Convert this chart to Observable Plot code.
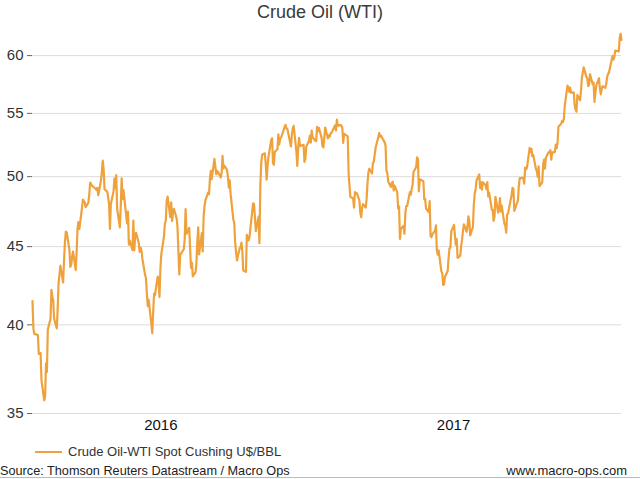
<!DOCTYPE html>
<html>
<head>
<meta charset="utf-8">
<script src="https://cdn.jsdelivr.net/npm/d3@7"></script>
<script src="https://cdn.jsdelivr.net/npm/@observablehq/plot@0.6"></script>
<style>
  html, body { margin: 0; padding: 0; background: #fff; }
  #wrap { position: relative; width: 640px; height: 479px; overflow: hidden; font-family: "Liberation Sans", Arial, sans-serif; color: #333; }
  #title { position: absolute; left: 0; top: 1px; width: 640px; text-align: center; font-size: 18px; line-height: 22px; color: #3a3a3a; }
  #chart { position: absolute; left: 0; top: 25px; }
  #legend { position: absolute; left: 35px; top: 444px; height: 16px; line-height: 16px; font-size: 13px; color: #333; display: flex; align-items: center; }
  #legend .sw { width: 27px; height: 2px; background: #EFA23C; margin-right: 6px; }
  #source { position: absolute; left: 0; top: 463px; font-size: 12.7px; line-height: 16px; color: #222; }
  #site { position: absolute; right: 13px; top: 463px; font-size: 13px; line-height: 16px; color: #222; }
  #rule { position: absolute; left: 0; top: 477px; width: 640px; height: 1px; background: #bbb; }
</style>
</head>
<body>
<div id="wrap">
  <div id="title">Crude Oil (WTI)</div>
  <div id="chart"></div>
  <div id="legend"><div class="sw"></div><span>Crude Oil-WTI Spot Cushing U$/BBL</span></div>
  <div id="source">Source: Thomson Reuters Datastream / Macro Ops</div>
  <div id="site">www.macro-ops.com</div>
  <div id="rule"></div>
</div>
<script>
// Daily WTI spot (US$/bbl), by month: "day:value" pairs
const months = [
  "2016-03", "2016-04", "2016-05", "2016-06", "2016-07", "2016-08", "2016-09", "2016-10", "2016-11", "2016-12",
  "2017-01", "2017-02", "2017-03", "2017-04", "2017-05", "2017-06", "2017-07", "2017-08", "2017-09", "2017-10",
  "2017-11", "2017-12", "2018-01"
];
const days = [
  [22,23,24,28,29,30,31],
  [1,4,5,6,7,8,11,12,13,14,15,18,19,20,21,22,25,26,27,28,29],
  [2,3,4,5,6,9,10,11,12,13,16,17,18,19,20,23,24,25,26,27,31],
  [1,2,3,6,7,8,9,10,13,14,15,16,17,20,21,22,23,24,27,28,29,30],
  [1,5,6,7,8,11,12,13,14,15,18,19,20,21,22,25,26,27,28,29],
  [1,2,3,4,5,8,9,10,11,12,15,16,17,18,19,22,23,24,25,26,29,30,31],
  [1,2,6,7,8,9,12,13,14,15,16,19,20,21,22,23,26,27,28,29,30],
  [3,4,5,6,7,10,11,12,13,14,17,18,19,20,21,24,25,26,27,28,31],
  [1,2,3,4,7,8,9,10,11,14,15,16,17,18,21,22,23,25,28,29,30],
  [1,2,5,6,7,8,9,12,13,14,15,16,19,20,21,22,23,27,28,29,30],
  [3,4,5,6,9,10,11,12,13,17,18,19,20,23,24,25,26,27,30,31],
  [1,2,3,6,7,8,9,10,13,14,15,16,17,21,22,23,24,27,28],
  [1,2,3,6,7,8,9,10,13,14,15,16,17,20,21,22,23,24,27,28,29,30,31],
  [3,4,5,6,7,10,11,12,13,17,18,19,20,21,24,25,26,27,28],
  [1,2,3,4,5,8,9,10,11,12,15,16,17,18,19,22,23,24,25,26,30,31],
  [1,2,5,6,7,8,9,12,13,14,15,16,19,20,21,22,23,26,27,28,29,30],
  [3,5,6,7,10,11,12,13,14,17,18,19,20,21,24,25,26,27,28,31],
  [1,2,3,4,7,8,9,10,11,14,15,16,17,18,21,22,23,24,25,28,29,30,31],
  [1,5,6,7,8,11,12,13,14,15,18,19,20,21,22,25,26,27,28,29],
  [2,3,4,5,6,9,10,11,12,13,16,17,18,19,20,23,24,25,26,27,30,31],
  [1,2,3,6,7,8,9,10,13,14,15,16,17,20,21,22,24,27,28,29,30],
  [1,4,5,6,7,8,11,12,13,14,15,18,19,20,21,22,26,27,28,29],
  [2,3,4,5]
];
const prices = [
  [41.45,39.79,39.46,39.39,38.28,38.34,38.34],
  [36.79,35.70,35.89,37.75,37.26,39.72,40.36,42.17,41.76,41.50,40.36,39.78,41.08,42.63,43.18,43.73,42.64,44.04,45.29,46.03,45.98],
  [44.78,43.65,43.78,44.32,44.66,43.44,44.66,46.23,46.70,46.21,47.72,48.31,48.19,48.12,47.75,48.08,48.62,49.56,49.48,49.33,49.10],
  [49.01,49.17,48.62,49.69,50.36,51.23,50.56,49.07,48.88,48.49,47.99,46.21,47.98,48.92,49.85,49.13,50.11,47.64,46.33,47.85,49.88,48.33],
  [48.99,46.60,47.43,45.14,45.41,44.76,46.80,44.75,45.68,45.95,45.24,44.65,44.94,44.75,44.19,43.13,42.92,41.92,41.14,41.54],
  [40.05,39.50,40.80,41.92,41.83,43.02,42.77,41.71,43.49,44.48,45.72,46.58,46.79,48.22,48.52,47.05,48.10,46.77,47.33,47.64,46.98,46.35,44.70],
  [43.16,44.44,44.83,45.50,47.62,45.88,46.29,44.90,43.58,43.91,43.03,43.30,43.85,45.34,46.32,44.48,45.93,44.67,47.05,47.83,48.24],
  [48.81,48.69,49.83,50.44,49.81,51.35,50.79,50.18,50.44,50.35,49.94,50.29,51.60,50.63,50.85,50.52,49.96,49.18,49.72,48.70,46.86],
  [46.67,45.34,44.66,44.07,44.88,44.96,45.27,44.66,43.41,43.32,45.81,45.57,45.42,45.69,47.49,48.03,47.96,46.06,47.08,45.23,49.44],
  [51.06,51.68,51.79,50.93,49.77,50.84,51.50,52.83,52.98,51.04,50.90,51.90,52.12,53.30,52.49,52.95,53.02,53.90,54.06,53.77,53.72],
  [52.33,53.26,53.77,53.98,51.95,50.82,52.19,53.01,52.36,52.45,51.12,51.39,52.33,52.77,53.18,52.63,53.59,53.07,52.76,52.75],
  [53.90,53.55,53.81,53.01,52.36,52.26,53.00,53.84,52.96,53.21,53.11,53.38,53.41,54.02,53.61,54.48,53.99,54.04,54.00],
  [53.82,52.61,53.33,53.19,53.11,50.28,49.28,48.49,48.40,47.72,48.86,48.75,48.78,48.22,47.34,47.04,47.70,47.97,47.73,48.37,49.51,50.35,50.60],
  [50.24,51.03,51.15,51.70,52.24,53.08,53.40,53.11,53.18,52.65,52.41,50.44,50.27,49.62,49.23,49.56,49.62,48.97,49.33],
  [48.84,47.66,47.82,45.52,46.22,46.43,45.88,47.33,47.83,47.84,48.85,48.66,49.07,49.35,50.33,50.73,51.47,51.36,48.90,49.80,49.66,48.32],
  [48.36,47.66,47.40,48.19,45.72,45.64,45.83,46.10,46.46,44.73,44.46,44.74,43.34,43.23,42.48,42.53,43.01,43.38,44.24,44.88,44.93,46.04],
  [46.50,45.13,45.52,44.25,44.40,45.04,45.49,46.08,46.54,46.02,46.40,47.10,46.79,45.77,46.34,47.89,48.75,49.04,49.71,50.17],
  [49.16,49.59,49.03,49.57,49.37,49.07,49.59,48.54,48.81,47.59,47.55,46.78,47.09,48.51,47.37,47.64,48.41,47.43,47.87,46.57,46.44,45.96,47.23],
  [47.29,48.66,49.16,49.09,47.48,48.07,48.23,49.30,49.89,49.89,49.91,49.48,50.69,50.55,50.66,52.22,51.88,52.14,51.56,51.67],
  [50.58,50.42,49.98,50.79,49.29,49.58,50.92,51.30,50.60,51.45,51.87,51.88,52.04,51.29,51.84,51.90,52.47,52.18,52.64,53.90,54.15,54.38],
  [54.30,54.54,55.64,57.35,57.20,56.81,57.17,56.74,56.76,55.70,55.33,55.14,56.55,56.09,56.83,58.02,58.95,58.11,57.99,57.30,57.40],
  [58.36,57.47,57.62,55.96,56.69,57.36,57.99,57.14,56.60,57.04,57.30,57.16,57.46,58.09,58.36,58.47,59.97,59.64,59.84,60.46],
  [60.37,61.63,62.01,61.44]
];
const yTicks = [35, 40, 45, 50, 55, 60];
const yearLabels = ["2016", "2017"];

// Build the table the library needs
const data = [];
months.forEach((m, i) => {
  days[i].forEach((d, j) => {
    data.push({date: new Date(m + "-" + String(d).padStart(2, "0") + "T00:00:00Z"), value: prices[i][j]});
  });
});
const first = data[0].date, last = data[data.length - 1].date;
const yearMids = yearLabels.map(y => {
  const s = Math.max(+new Date(y + "-01-01T00:00:00Z"), +first);
  const e = Math.min(+new Date((+y + 1) + "-01-01T00:00:00Z"), +last);
  return new Date((s + e) / 2);
});

const chart = Plot.plot({
  width: 640,
  height: 415,
  marginLeft: 32,
  marginRight: 19,
  marginTop: 3,
  marginBottom: 27,
  style: {fontFamily: "'Liberation Sans', Arial, sans-serif", fontSize: "15px", color: "#333", background: "transparent"},
  x: {type: "utc", domain: [first, last]},
  y: {type: "log", domain: [35, 62.5]},
  marks: [
    Plot.ruleY(yTicks, {stroke: "#dcdcdc", strokeWidth: 1}),
    Plot.axisY({ticks: yTicks, tickFormat: d => String(d), tickSize: 5, tickPadding: 4, fontSize: 15, stroke: "#666", label: null, color: "#333"}),
    Plot.axisX({ticks: yearMids, tickFormat: d => String(d.getUTCFullYear()), tickSize: 0, tickPadding: 6, fontSize: 15, label: null, color: "#111"}),
    Plot.lineY(data, {x: "date", y: "value", stroke: "#EFA23C", strokeWidth: 2.2, strokeLinejoin: "round"})
  ]
});
document.getElementById("chart").appendChild(chart);
</script>
</body>
</html>
